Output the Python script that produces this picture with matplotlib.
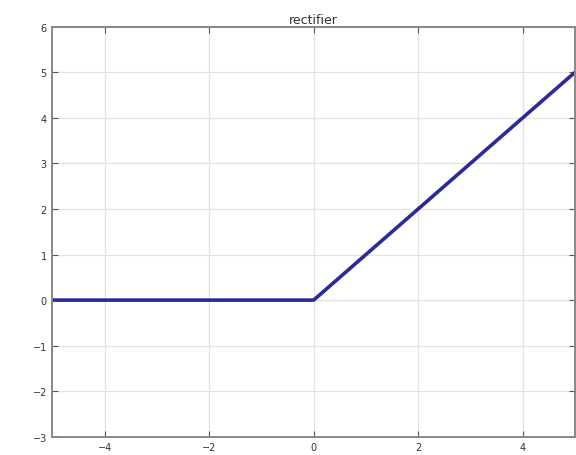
import matplotlib
matplotlib.use("Agg")
import matplotlib.pyplot as plt
import numpy as np

# rectifier curve: corner points of max(0, x)
x_pts = [-5, 0, 5]
y_pts = [0, 0, 5]
x_ticks = [-4, -2, 0, 2, 4]
y_ticks = [-3, -2, -1, 0, 1, 2, 3, 4, 5, 6]

fig = plt.figure(figsize=(5.76, 4.56), dpi=100)
ax = fig.add_axes([0.091, 0.04, 0.907, 0.899])

ax.plot(x_pts, y_pts, color='#2a2a9e', linewidth=2.6, solid_capstyle='butt')

ax.set_xlim(-5, 5)
ax.set_ylim(-3, 6)
ax.set_xticks(x_ticks)
ax.set_yticks(y_ticks)
ax.set_xticklabels([str(v).replace('-', '\u2212') for v in x_ticks])
ax.set_yticklabels([str(v).replace('-', '\u2212') for v in y_ticks])
ax.grid(True, color='#e2e2e2', linewidth=0.9)
ax.set_axisbelow(True)

ax.tick_params(direction='in', top=True, right=True, labelsize=7,
               colors='#555555', labelcolor='#333333', length=4, pad=4)
for s in ax.spines.values():
    s.set_color('#888888')
    s.set_linewidth(1.4)

ax.set_title('rectifier', fontsize=9, color='#333333', pad=3)

fig.savefig('out.png', dpi=100)
